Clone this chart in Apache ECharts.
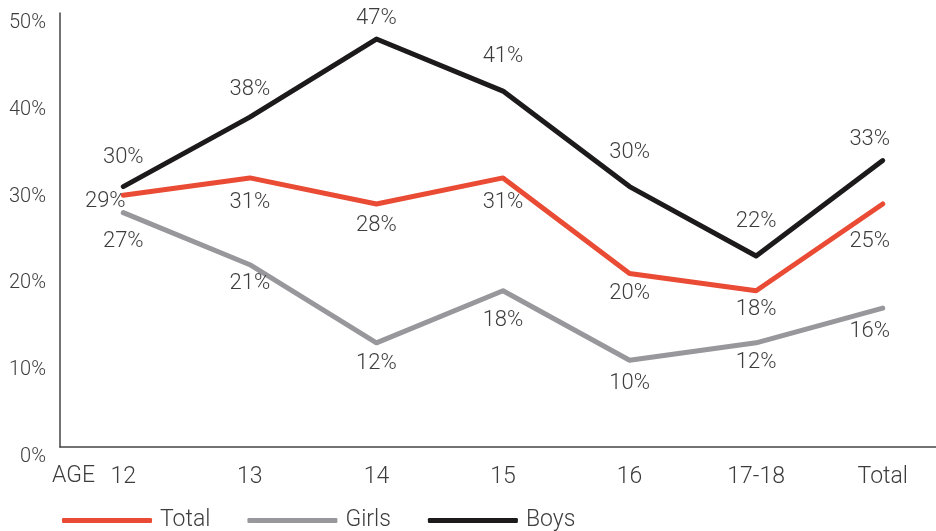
<!DOCTYPE html>
<html>
<head>
<meta charset="utf-8">
<script src="https://cdn.jsdelivr.net/npm/echarts@6/dist/echarts.min.js"></script>
<style>
  html, body { margin: 0; padding: 0; background: #fff; overflow: hidden; }
  #chart { width: 946px; height: 531px; }
</style>
</head>
<body>
<div id="chart"></div>
<script>
var categories = ['12', '13', '14', '15', '16', '17-18', 'Total'];
var yTicks = [0, 10, 20, 30, 40, 50];

// plotted values (%)
var totalValues = [29, 31, 28, 31, 20, 18, 28];
var girlsValues = [27, 21, 12, 18, 10, 12, 16];
var boysValues = [30, 38, 47, 41, 30, 22, 33];

// value labels as printed on the chart
var totalLabels = ['29%', '31%', '28%', '31%', '20%', '18%', '25%'];
var girlsLabels = ['27%', '21%', '12%', '18%', '10%', '12%', '16%'];
var boysLabels = ['30%', '38%', '47%', '41%', '30%', '22%', '33%'];

var TEXT = '#3d3d3d';
var FONT = 'Roboto';

/* 把数值和标签拼成 series data，最后一列标签往左挪一点 */
function buildData(values, labels, extra) {
  return values.map(function (v, i) {
    var item = { value: v, labelText: labels[i] };
    var lbl = {};
    if (i === values.length - 1) lbl.offset = [-13, 0];
    if (extra && extra[i]) lbl = Object.assign(lbl, extra[i]);
    if (Object.keys(lbl).length) item.label = lbl;
    return item;
  });
}

function lineSeries(name, color, data, position, distance) {
  return {
    name: name,
    type: 'line',
    data: data,
    symbol: 'circle',
    symbolSize: 1,
    showSymbol: true,
    itemStyle: { color: color },
    lineStyle: { color: color, width: 5, cap: 'round', join: 'round' },
    label: {
      show: true,
      position: position,
      distance: distance,
      color: TEXT,
      fontFamily: FONT,
      fontWeight: 300,
      fontSize: 22,
      formatter: function (p) { return p.data.labelText; }
    },
    emphasis: { disabled: true },
    animation: false,
    z: name === 'Boys' ? 3 : 2
  };
}

var chart = echarts.init(document.getElementById('chart'), null, { renderer: 'canvas' });

chart.setOption({
  animation: false,
  grid: { left: 60, right: 0, top: 13, bottom: 84, containLabel: false },
  xAxis: {
    type: 'category',
    data: categories,
    boundaryGap: true,
    axisLine: { lineStyle: { color: '#444', width: 1.5 } },
    axisTick: { show: false },
    axisLabel: {
      color: TEXT, fontFamily: FONT, fontWeight: 300, fontSize: 23, margin: 19
    }
  },
  yAxis: {
    type: 'value',
    min: yTicks[0],
    max: yTicks[yTicks.length - 1],
    interval: 10,
    splitLine: { show: false },
    axisLine: { show: true, lineStyle: { color: '#444', width: 1.5 } },
    axisTick: { show: false },
    axisLabel: {
      color: TEXT, fontFamily: FONT, fontWeight: 300, fontSize: 20, margin: 14,
      verticalAlign: 'top',
      formatter: '{value}%'
    }
  },
  legend: {
    left: 62,
    top: 509,
    padding: 0,
    itemWidth: 90,
    itemHeight: 5,
    itemGap: 37,
    icon: 'roundRect',
    data: ['Total', 'Girls', 'Boys'],
    textStyle: { color: TEXT, fontFamily: FONT, fontWeight: 300, fontSize: 23, padding: [0, 0, 0, 3] }
  },
  graphic: [{
    type: 'text',
    left: 52,
    top: 465,
    style: { text: 'AGE', fill: TEXT, font: '300 23px Roboto' }
  }],
  series: [
    lineSeries('Total', '#E94B35',
      buildData(totalValues, totalLabels, {
        0: { position: 'inside', offset: [-18, 6] },
        1: { distance: 13 },
        3: { distance: 13 },
        4: { distance: 9 },
        5: { distance: 7 },
        6: { distance: 26, offset: [-13, 0] }
      }), 'bottom', 10),
    lineSeries('Girls', '#98989C',
      buildData(girlsValues, girlsLabels, {
        0: { distance: 17 },
        1: { distance: 7 },
        2: { distance: 9 },
        3: { distance: 18 },
        5: { distance: 8 }
      }), 'bottom', 12),
    lineSeries('Boys', '#1C1A1B',
      buildData(boysValues, boysLabels, {
        0: { distance: 18 },
        1: { distance: 16 },
        2: { distance: 9 },
        6: { distance: 10, offset: [-13, 0] }
      }), 'top', 23)
  ]
});
</script>
</body>
</html>
